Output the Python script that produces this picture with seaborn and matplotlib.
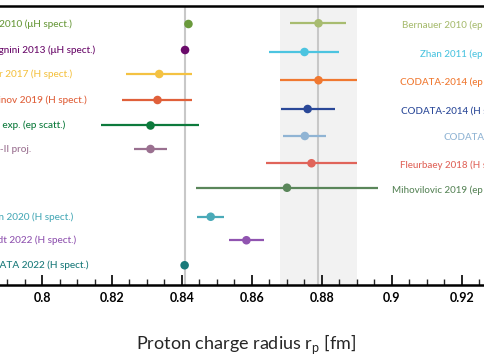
import matplotlib
matplotlib.use("Agg")
import matplotlib.pyplot as plt
import seaborn as sns
import pandas as pd
from matplotlib.ticker import MultipleLocator

# ---------------- data ----------------
left_labels = ["Pohl 2010 (μH spect.)", "Antognini 2013 (μH spect.)", "Beyer 2017 (H spect.)",
               "Bezginov 2019 (H spect.)", "PRad exp. (ep scatt.)", "PRad-II proj.",
               "Grinin 2020 (H spect.)", "Brandt 2022 (H spect.)", "CODATA 2022 (H spect.)"]
left_values = [0.84184, 0.84087, 0.8335, 0.8330, 0.8310, 0.8310, 0.8482, 0.8584, 0.84075]
left_errors = [0.00067, 0.00039, 0.0095, 0.0100, 0.0140, 0.0046, 0.0038, 0.0051, 0.00064]
left_rows = [0.0, 1.04, 2.0, 3.04, 4.06, 5.0, 7.71, 8.65, 9.65]
left_colors = ["#6a9a3c", "#6a0a6a", "#f4c242", "#e0603a", "#0d7a3c", "#9a7090",
               "#4aaab8", "#9054b0", "#1a7a7a"]

right_labels = ["Bernauer 2010 (ep scatt.)", "Zhan 2011 (ep scatt.)", "CODATA-2014 (ep scatt.)",
                "CODATA-2014 (H spect.)", "CODATA-2014", "Fleurbaey 2018 (H spect.)",
                "Mihovilovic 2019 (ep scatt.)"]
right_values = [0.879, 0.875, 0.879, 0.8759, 0.8751, 0.877, 0.870]
right_errors = [0.008, 0.010, 0.011, 0.0077, 0.0061, 0.013, 0.026]
right_rows = [-0.03, 1.12, 2.25, 3.4, 4.48, 5.57, 6.55]
right_colors = ["#a8bc70", "#4cc4e0", "#f07830", "#2a4898", "#90b4d4", "#e0645a", "#5a865a"]

muonic_ref = 0.8409
ep_ref = 0.879
ep_ref_err = 0.011
xlabel = "Proton charge radius r$_\\mathregular{p}$ [fm]"

# ---------------- plot ----------------
sns.set_theme(style="white")
plt.rcParams["font.family"] = ["Lato", "DejaVu Sans"]

df = pd.DataFrame({
    "label": left_labels + right_labels,
    "r": left_values + right_values,
    "err": left_errors + right_errors,
    "row": left_rows + right_rows,
    "color": left_colors + right_colors,
})

fig = plt.figure(figsize=(4.85, 3.6), dpi=100)
xmin, xmax = 0.77, 0.95
px_per_unit = 3500.0
left_px = 42 + (xmin - 0.8) * px_per_unit
right_px = 42 + (xmax - 0.8) * px_per_unit
ax = fig.add_axes([left_px / 485, 75 / 360, (right_px - left_px) / 485, 279 / 360])

ax.axvspan(ep_ref - ep_ref_err, ep_ref + ep_ref_err, color="#f2f2f2", zorder=0, lw=0)
ax.axvline(ep_ref, color="#c8c8c8", lw=1.5, zorder=1)
ax.axvline(muonic_ref, color="#c8c8c8", lw=1.5, zorder=1)

ax.hlines(df["row"], df["r"] - df["err"], df["r"] + df["err"], colors=df["color"], lw=1.6, zorder=2)
sns.scatterplot(data=df, x="r", y="row", hue="label", palette=dict(zip(df["label"], df["color"])),
                s=38, edgecolor="none", legend=False, ax=ax, zorder=3)

for lab, row, col in zip(left_labels, left_rows, left_colors):
    ax.text(0.7813, row, lab, color=col, fontsize=7.2, ha="left", va="center", fontweight="medium")
for lab, row, col in zip(right_labels, right_rows, right_colors):
    ax.text(0.9340, row + 0.08, lab, color=col, fontsize=7, ha="right", va="center", fontweight="medium")

ax.set_xlim(xmin, xmax)
ax.set_ylim(10.44, -0.72)
ax.set_yticks([])
ax.set_ylabel("")
ax.set_xlabel(xlabel, fontsize=13, labelpad=20, x=(246.5 - left_px) / (right_px - left_px))
ax.xaxis.set_minor_locator(MultipleLocator(0.005))
ax.set_xticks([0.78, 0.8, 0.82, 0.84, 0.86, 0.88, 0.9, 0.92, 0.94])
ax.set_xticklabels(["0.78", "0.8", "0.82", "0.84", "0.86", "0.88", "0.9", "0.92", "0.94"],
                   fontweight="bold", fontsize=9)
ax.tick_params(axis="x", which="major", direction="in", length=7, width=1.2, bottom=True, pad=5, colors="black")
ax.tick_params(axis="x", which="minor", direction="in", length=4, width=1.0, bottom=True)
for s in ["top", "bottom", "left", "right"]:
    ax.spines[s].set_color("black")
    ax.spines[s].set_linewidth(1.8)

fig.savefig("out.png", dpi=100)
